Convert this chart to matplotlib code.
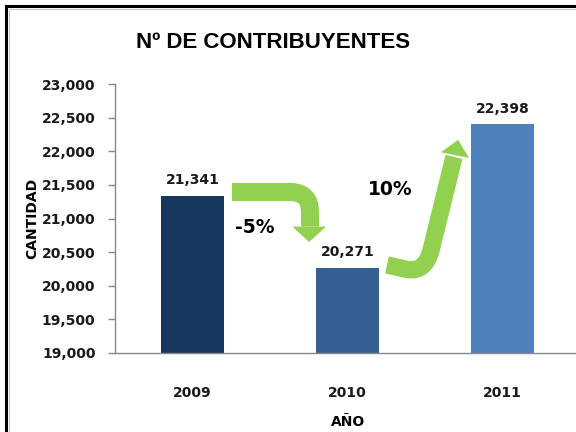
import matplotlib
matplotlib.use("Agg")
import matplotlib.pyplot as plt
from matplotlib.patches import Rectangle, Polygon, PathPatch
from matplotlib.path import Path

years = ["2009", "2010", "2011"]
values = [21341, 20271, 22398]
value_labels = ["21,341", "20,271", "22,398"]
changes = ["-5%", "10%"]
yticks = [19000, 19500, 20000, 20500, 21000, 21500, 22000, 22500, 23000]
ytick_labels = ["19,000", "19,500", "20,000", "20,500", "21,000", "21,500", "22,000", "22,500", "23,000"]
bar_colors = ["#17375E", "#376092", "#4F81BD"]
green = "#92D050"

W, H = 576, 432
fig = plt.figure(figsize=(5.76, 4.32), dpi=100)
fig.patch.set_facecolor("white")

# frame
fig.patches.append(Rectangle((5.5 / W, -0.1), 1.2, 1 - 5.5 / H + 0.1, transform=fig.transFigure,
                             fill=False, edgecolor="black", linewidth=2.2, zorder=0))
fig.patches.append(Rectangle((9 / W, -0.1), 1.2, 1 - 9 / H + 0.1, transform=fig.transFigure,
                             fill=False, edgecolor="#C8C8C8", linewidth=0.8, zorder=0))

ax = fig.add_axes([115 / W, 1 - 353 / H, 465 / W, (353 - 84) / H])
ax.set_facecolor("none")
x = list(range(len(years)))
ax.bar(x, values, width=0.405, color=bar_colors, zorder=2)
ax.set_xlim(-0.5, 2.5)
ax.set_ylim(19000, 23000)
ax.set_yticks(yticks)
ax.set_yticklabels(ytick_labels, fontsize=10, fontweight="bold", color="#1a1a1a")
ax.set_xticks(x)
ax.set_xticklabels(years, fontsize=10, fontweight="bold", color="#1a1a1a")
ax.tick_params(axis="x", length=0, pad=24)
ax.tick_params(axis="y", direction="out", length=5, color="#888888", width=1, pad=9)
for s in ["top", "right"]:
    ax.spines[s].set_visible(False)
for s in ["left", "bottom"]:
    ax.spines[s].set_color("#888888")
    ax.spines[s].set_linewidth(1)

for xi, v, lab in zip(x, values, value_labels):
    ax.text(xi, v + 120, lab, ha="center", va="bottom", fontsize=10, fontweight="bold", color="#1a1a1a")

ax.set_ylabel("CANTIDAD", fontsize=10, fontweight="bold")
ax.yaxis.set_label_coords(-0.163, 0.5)
fig.text(348 / W, 1 - 422 / H, "AÑO", ha="center", va="center",
         fontsize=10, fontweight="bold")
fig.text(273 / W, 1 - 42 / H, "Nº DE CONTRIBUYENTES", ha="center", va="center",
         fontsize=16, fontweight="bold", family=["Liberation Sans Narrow", "Liberation Sans", "DejaVu Sans"])

# arrow 1 (decrease)
lw = 13
p1 = Path([(0.255, 21394), (0.629, 21394), (0.758, 21394), (0.758, 21097), (0.758, 20880)],
          [Path.MOVETO, Path.LINETO, Path.CURVE3, Path.CURVE3, Path.LINETO])
ax.add_patch(PathPatch(p1, fill=False, edgecolor=green, linewidth=lw, capstyle="butt",
                       joinstyle="round", zorder=3))
ax.add_patch(Polygon([(0.645, 20880), (0.862, 20880), (0.752, 20651)], closed=True,
                     facecolor=green, edgecolor="none", zorder=3))

# arrow 2 (increase)
lw2 = 12.5
p2 = Path([(1.255, 20309), (1.371, 20249), (1.500, 20175), (1.539, 20532), (1.687, 21915)],
          [Path.MOVETO, Path.LINETO, Path.CURVE3, Path.CURVE3, Path.LINETO])
ax.add_patch(PathPatch(p2, fill=False, edgecolor=green, linewidth=lw2, capstyle="butt",
                       joinstyle="round", zorder=3))
ax.add_patch(Polygon([(1.603, 21985), (1.785, 21900), (1.713, 22170)], closed=True,
                     facecolor=green, edgecolor="none", zorder=3))

ax.text(0.403, 20860, changes[0], ha="center", va="center", fontsize=13.5, fontweight="heavy",
        family="DejaVu Sans", color="black", zorder=4)
ax.text(1.274, 21424, changes[1], ha="center", va="center", fontsize=13.5, fontweight="heavy",
        family="DejaVu Sans", color="black", zorder=4)

fig.savefig("out.png", dpi=100)
